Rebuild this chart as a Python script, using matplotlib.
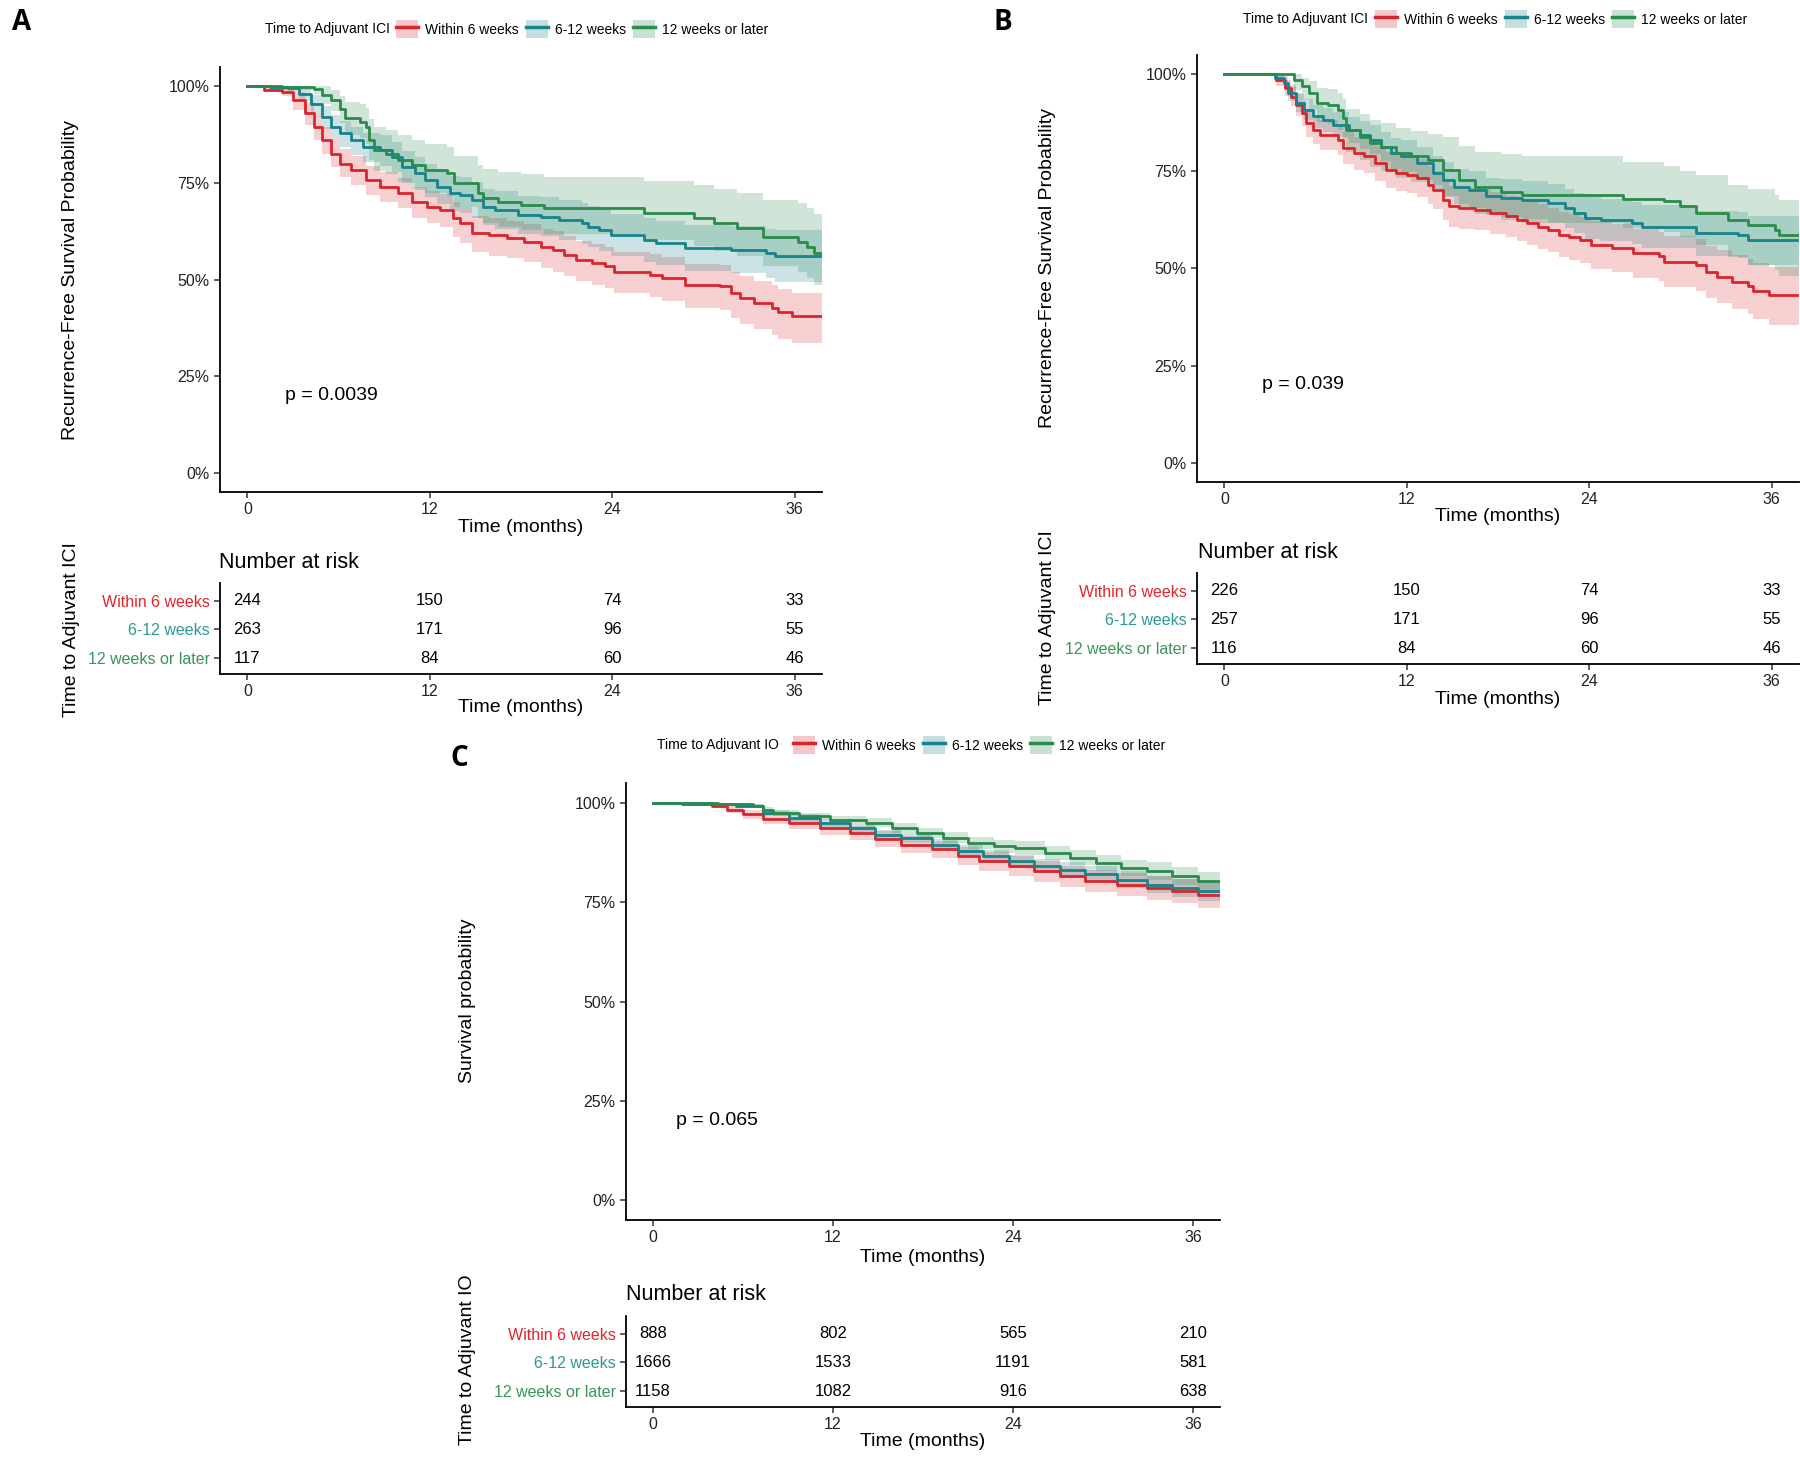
import numpy as np
import matplotlib
matplotlib.use("Agg")
import matplotlib.pyplot as plt
from matplotlib.patches import Patch
from matplotlib.lines import Line2D

plt.rcParams['font.family'] = ['Liberation Sans', 'DejaVu Sans']

W, H = 1800, 1464

groups = ["Within 6 weeks", "6-12 weeks", "12 weeks or later"]
line_colors = ["#d7262d", "#17838a", "#2a8b4c"]
label_colors = ["#e0262c", "#2f9797", "#3a9658"]

time_ticks = [0, 12, 24, 36]
x_end = 37.8

# rows: time (months), survival, lower CI, upper CI
A_within6 = np.array([
    [0, 1.0, 1.0, 1.0], [1.1, .99, .985, 1.0], [2.3, .985, .975, .995],
    [3.0, .964, .94, .985], [3.8, .93, .90, .96], [4.4, .895, .86, .93],
    [4.9, .86, .825, .895], [5.5, .826, .79, .862], [6.1, .80, .765, .837],
    [6.8, .783, .745, .82], [7.8, .757, .72, .795], [8.7, .74, .70, .778],
    [9.9, .723, .685, .762], [10.8, .70, .66, .74], [11.8, .688, .645, .73],
    [12.7, .68, .635, .722], [13.5, .658, .61, .70], [14.0, .645, .595, .688],
    [14.8, .62, .57, .665], [15.9, .615, .562, .66], [17.1, .607, .555, .652],
    [18.2, .598, .545, .643], [19.3, .585, .53, .632], [20.1, .577, .52, .625],
    [20.8, .564, .508, .612], [21.6, .55, .495, .60], [22.7, .542, .485, .592],
    [23.5, .534, .477, .585], [24.1, .52, .465, .572], [26.5, .512, .455, .565],
    [27.3, .503, .445, .557], [28.8, .486, .427, .54], [31.1, .482, .42, .537],
    [31.8, .465, .40, .52], [32.4, .452, .385, .508], [33.3, .44, .372, .497],
    [34.5, .426, .357, .485], [34.9, .417, .345, .476], [35.8, .406, .336, .466],
])
A_6to12 = np.array([
    [0, 1.0, 1.0, 1.0], [1.5, .998, .99, 1.0], [2.65, .996, .985, 1.0],
    [3.4, .98, .963, .995], [4.2, .955, .93, .978], [4.9, .92, .89, .948],
    [5.5, .895, .862, .926], [6.1, .878, .843, .91], [6.8, .86, .823, .895],
    [7.6, .843, .805, .88], [8.7, .835, .795, .873], [9.5, .818, .778, .857],
    [10.2, .792, .75, .833], [11.0, .775, .732, .817], [11.7, .757, .713, .80],
    [12.5, .74, .695, .784], [13.3, .723, .678, .768], [14.0, .719, .673, .765],
    [14.8, .706, .66, .752], [15.5, .688, .641, .735], [16.3, .68, .632, .728],
    [17.8, .667, .618, .716], [19.3, .663, .613, .713], [20.5, .654, .603, .705],
    [22.0, .645, .592, .697], [22.4, .637, .583, .69], [23.1, .628, .574, .682],
    [23.9, .615, .56, .67], [26.1, .602, .546, .658], [26.9, .594, .537, .651],
    [28.8, .581, .522, .64], [31.8, .577, .516, .638], [34.1, .568, .505, .631],
    [34.7, .561, .493, .627],
])
A_12plus = np.array([
    [0, 1.0, 1.0, 1.0], [2.3, .998, .99, 1.0], [4.4, .994, .98, 1.0],
    [4.9, .977, .955, 1.0], [5.5, .964, .935, .99], [6.1, .942, .905, .975],
    [6.4, .917, .875, .96], [7.4, .908, .865, .955], [7.8, .895, .85, .945],
    [8.0, .86, .81, .915], [8.3, .835, .782, .895], [9.1, .826, .772, .888],
    [9.9, .809, .753, .873], [10.8, .796, .738, .862], [11.7, .783, .724, .85],
    [13.1, .775, .715, .843], [13.6, .749, .688, .82], [15.2, .723, .66, .797],
    [15.5, .71, .646, .786], [16.5, .701, .637, .779], [18.0, .693, .628, .772],
    [19.5, .684, .618, .765], [26.1, .671, .603, .756], [29.4, .658, .588, .745],
    [30.7, .645, .574, .735], [32.2, .633, .56, .725], [33.9, .611, .535, .706],
    [36.2, .598, .52, .697], [36.8, .585, .505, .685], [37.3, .568, .487, .67],
])

B_within6 = np.array([
    [0, 1.0, 1.0, 1.0], [3.4, .986, .97, 1.0], [4.0, .965, .945, .985],
    [4.4, .943, .918, .968], [4.7, .922, .893, .951], [5.1, .90, .868, .932],
    [5.4, .875, .84, .91], [5.8, .857, .82, .894], [6.3, .844, .805, .883],
    [7.5, .832, .792, .872], [7.8, .81, .768, .852], [8.5, .797, .754, .84],
    [9.2, .789, .745, .833], [9.9, .771, .726, .816], [10.6, .754, .708, .80],
    [11.3, .746, .70, .792], [12.0, .741, .694, .788], [12.7, .733, .685, .781],
    [13.4, .716, .667, .765], [13.7, .703, .654, .752], [14.4, .677, .626, .728],
    [14.75, .66, .608, .712], [15.45, .655, .603, .707], [16.5, .651, .598, .704],
    [17.5, .643, .59, .696], [18.55, .634, .58, .688], [19.25, .625, .57, .68],
    [19.9, .617, .561, .673], [20.6, .608, .551, .665], [21.3, .60, .543, .657],
    [22.0, .587, .529, .645], [22.7, .582, .523, .641], [23.4, .574, .515, .633],
    [24.1, .561, .50, .622], [25.5, .552, .49, .614], [26.85, .539, .476, .602],
    [28.6, .531, .467, .595], [28.9, .518, .453, .583], [31.0, .509, .443, .575],
    [31.7, .492, .425, .559], [32.4, .479, .41, .548], [33.4, .466, .396, .536],
    [34.45, .454, .383, .525], [34.8, .443, .371, .515], [35.8, .432, .355, .505],
])
B_6to12 = np.array([
    [0, 1.0, 1.0, 1.0], [3.35, .99, .98, 1.0], [3.9, .978, .962, .995],
    [4.2, .952, .932, .972], [4.7, .926, .902, .95], [5.25, .909, .882, .936],
    [5.8, .892, .862, .922], [6.5, .883, .852, .914], [7.15, .87, .838, .902],
    [8.2, .857, .823, .891], [8.9, .844, .808, .88], [9.6, .832, .795, .869],
    [10.3, .814, .776, .852], [10.95, .797, .757, .837], [11.65, .789, .748, .83],
    [12.7, .771, .729, .813], [13.7, .746, .702, .79], [14.4, .729, .684, .774],
    [15.1, .711, .665, .757], [16.1, .703, .656, .75], [17.2, .686, .638, .734],
    [18.2, .681, .632, .73], [19.6, .677, .628, .726], [21.3, .668, .618, .718],
    [22.4, .655, .604, .706], [23.0, .643, .591, .695], [23.7, .63, .577, .683],
    [24.8, .625, .571, .679], [26.8, .617, .562, .672], [27.5, .608, .552, .664],
    [31.0, .591, .533, .649], [33.8, .587, .528, .646], [34.45, .574, .508, .635],
])
B_12plus = np.array([
    [0, 1.0, 1.0, 1.0], [4.6, .986, .96, 1.0], [5.1, .969, .935, .99],
    [5.6, .952, .912, .982], [6.1, .926, .878, .965], [6.8, .922, .873, .962],
    [7.5, .909, .858, .953], [7.8, .887, .833, .936], [8.0, .857, .80, .912],
    [8.9, .84, .78, .898], [9.6, .823, .762, .883], [10.3, .814, .752, .876],
    [11.3, .797, .733, .862], [12.3, .789, .724, .855], [13.4, .78, .714, .847],
    [14.4, .754, .686, .84], [15.45, .729, .659, .815], [16.5, .711, .64, .80],
    [18.2, .698, .626, .795], [19.6, .69, .617, .79], [26.2, .679, .605, .775],
    [28.9, .673, .595, .763], [30.0, .66, .58, .75], [31.0, .643, .56, .74],
    [33.1, .625, .53, .716], [34.45, .613, .51, .705], [36.2, .60, .495, .69],
    [36.5, .587, .48, .677],
])

C_within6 = np.array([
    [0, 1.0, 1.0, 1.0], [1.9, .997, .993, 1.0], [3.9, .993, .987, .999],
    [4.95, .983, .975, .991], [5.97, .971, .96, .982], [7.34, .96, .947, .973],
    [9.04, .95, .935, .964], [11.1, .937, .92, .953], [13.1, .924, .906, .942],
    [14.8, .908, .888, .928], [16.55, .895, .874, .916], [18.6, .883, .861, .905],
    [20.3, .866, .843, .889], [21.7, .853, .829, .877], [23.7, .841, .816, .866],
    [25.4, .828, .802, .854], [27.1, .815, .788, .842], [28.8, .803, .775, .831],
    [30.9, .794, .765, .823], [32.9, .786, .756, .816], [34.6, .778, .747, .809],
    [36.3, .769, .736, .802],
])
C_6to12 = np.array([
    [0, 1.0, 1.0, 1.0], [1.9, .999, .997, 1.0], [3.9, .996, .992, 1.0],
    [5.5, .992, .987, .997], [7.34, .975, .967, .983], [9.04, .962, .953, .971],
    [11.1, .95, .94, .96], [13.1, .937, .926, .948], [14.8, .92, .908, .932],
    [16.55, .912, .899, .925], [18.6, .895, .881, .909], [20.3, .878, .863, .893],
    [22.0, .866, .85, .882], [23.7, .853, .836, .87], [25.4, .841, .823, .859],
    [27.1, .832, .813, .851], [28.8, .82, .80, .84], [30.9, .807, .786, .828],
    [32.9, .794, .772, .816], [34.6, .786, .763, .809], [36.3, .778, .754, .802],
])
C_12plus = np.array([
    [0, 1.0, 1.0, 1.0], [4.3, .998, .995, 1.0], [5.6, .996, .992, 1.0],
    [6.65, .993, .988, .998], [7.34, .983, .976, .99], [8.0, .975, .967, .983],
    [9.7, .966, .957, .975], [11.8, .958, .948, .968], [14.2, .95, .939, .961],
    [15.9, .937, .925, .949], [17.6, .924, .911, .937], [19.3, .912, .898, .926],
    [21.0, .899, .884, .914], [22.7, .891, .875, .907], [24.1, .887, .87, .904],
    [26.1, .874, .856, .892], [27.8, .862, .843, .881], [29.5, .849, .829, .869],
    [31.2, .836, .815, .857], [32.9, .828, .806, .85], [34.6, .815, .792, .838],
    [36.3, .803, .779, .827],
])

A_risk = [[244, 150, 74, 33], [263, 171, 96, 55], [117, 84, 60, 46]]
B_risk = [[226, 150, 74, 33], [257, 171, 96, 55], [116, 84, 60, 46]]
C_risk = [[888, 802, 565, 210], [1666, 1533, 1191, 581], [1158, 1082, 916, 638]]


def box(l, t, r, b):
    return [l / W, 1 - b / H, (r - l) / W, (b - t) / H]


def ftext(x, y, s, **kw):
    fig.text(x / W, 1 - y / H, s, **kw)


def style_axes(ax):
    for side in ["top", "right"]:
        ax.spines[side].set_visible(False)
    for side in ["left", "bottom"]:
        ax.spines[side].set_linewidth(1.3)
    ax.tick_params(length=4, width=1.1, labelsize=11.5, colors="#333333",
                   labelcolor="#222222")
    ax.set_xlim(-1.8, x_end)
    ax.set_xticks(time_ticks)


def draw_km(ax, curves, pval, px):
    for data, col in zip(curves, line_colors):
        t = np.append(data[:, 0], x_end)
        s = np.append(data[:, 1], data[-1, 1])
        lo = np.append(data[:, 2], data[-1, 2])
        hi = np.append(data[:, 3], data[-1, 3])
        ax.fill_between(t, lo, hi, step="post", color=col, alpha=0.22, lw=0)
        ax.step(t, s, where="post", color=col, lw=2.0)
    style_axes(ax)
    ax.set_ylim(-0.05, 1.05)
    ax.set_yticks([0, .25, .5, .75, 1.0])
    ax.set_yticklabels(["0%", "25%", "50%", "75%", "100%"])
    ax.text(px, 0.2, pval, fontsize=14, ha="left", va="center")


def draw_table(ax, risk):
    style_axes(ax)
    ax.set_ylim(0.44, 3.63)
    ax.set_yticks([3, 2, 1])
    ax.set_yticklabels(groups)
    for lab, c in zip(ax.get_yticklabels(), label_colors):
        lab.set_color(c)
    for row, y in zip(risk, [3, 2, 1]):
        for t, n in zip(time_ticks, row):
            ax.text(t, y, str(n), ha="center", va="center", fontsize=12)


def legend(key_x, title_x, y, title):
    ftext(title_x, y, title, fontsize=10, ha="left", va="center")
    handles = [(Patch(facecolor=c, alpha=0.25, lw=0), Line2D([], [], color=c, lw=2.5))
               for c in line_colors]
    fig.legend(handles, groups, loc="center left", ncol=3, frameon=False,
               bbox_to_anchor=(key_x / W, 1 - y / H), fontsize=10,
               handlelength=1.6, handleheight=1.6, handletextpad=0.5,
               columnspacing=0.5, borderpad=0, borderaxespad=0)


fig = plt.figure(figsize=(W / 100, H / 100), dpi=100)

# ---- Panel A ----
axA = fig.add_axes(box(220, 67, 822, 492))
draw_km(axA, [A_within6, A_6to12, A_12plus], "p = 0.0039", 2.5)
tA = fig.add_axes(box(220, 583, 822, 674))
draw_table(tA, A_risk)
ftext(12, 23, "A", fontsize=20, fontweight="bold", family="Open Sans", ha="left", va="center")
legend(396, 265, 29, "Time to Adjuvant ICI")
ftext(71, 280, "Recurrence-Free Survival Probability", rotation=90, fontsize=14, ha="center", va="center")
ftext(71, 630, "Time to Adjuvant ICI", rotation=90, fontsize=14, ha="center", va="center")
ftext(521, 527, "Time (months)", fontsize=14, ha="center", va="center")
ftext(521, 708, "Time (months)", fontsize=14, ha="center", va="center")
ftext(219, 563, "Number at risk", fontsize=15.5, ha="left", va="center")

# ---- Panel B ----
axB = fig.add_axes(box(1197, 55, 1799, 482))
draw_km(axB, [B_within6, B_6to12, B_12plus], "p = 0.039", 2.5)
tB = fig.add_axes(box(1197, 573, 1799, 664))
draw_table(tB, B_risk)
ftext(993, 23, "B", fontsize=20, fontweight="bold", family="Open Sans", ha="left", va="center")
legend(1375, 1243, 19, "Time to Adjuvant ICI")
ftext(1047, 268, "Recurrence-Free Survival Probability", rotation=90, fontsize=14, ha="center", va="center")
ftext(1047, 618, "Time to Adjuvant ICI", rotation=90, fontsize=14, ha="center", va="center")
ftext(1498, 516, "Time (months)", fontsize=14, ha="center", va="center")
ftext(1498, 700, "Time (months)", fontsize=14, ha="center", va="center")
ftext(1198, 553, "Number at risk", fontsize=15.5, ha="left", va="center")

# ---- Panel C ----
axC = fig.add_axes(box(626, 783, 1220, 1220))
draw_km(axC, [C_within6, C_6to12, C_12plus], "p = 0.065", 1.5)
tC = fig.add_axes(box(626, 1316, 1220, 1407))
draw_table(tC, C_risk)
ftext(450, 758, "C", fontsize=20, fontweight="bold", family="Open Sans", ha="left", va="center")
legend(793, 657, 745, "Time to Adjuvant IO")
ftext(468, 1001, "Survival probability", rotation=90, fontsize=14, ha="center", va="center")
ftext(468, 1360, "Time to Adjuvant IO", rotation=90, fontsize=14, ha="center", va="center")
ftext(923, 1257, "Time (months)", fontsize=14, ha="center", va="center")
ftext(923, 1442, "Time (months)", fontsize=14, ha="center", va="center")
ftext(626, 1295, "Number at risk", fontsize=15.5, ha="left", va="center")

fig.savefig("out.png", dpi=100)
